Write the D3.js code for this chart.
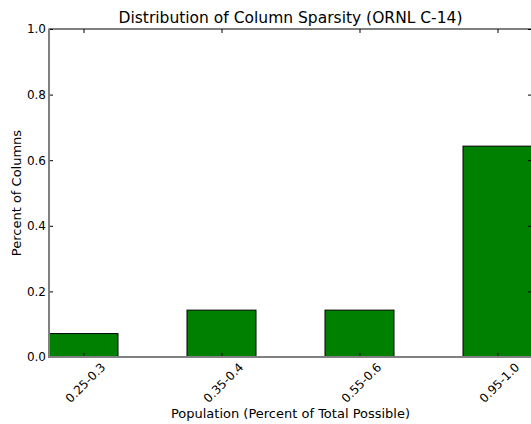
<!DOCTYPE html>
<html>
<head>
<meta charset="utf-8">
<script src="https://cdn.jsdelivr.net/npm/d3@7"></script>
<style>
  html, body { margin: 0; padding: 0; background: #fff; }
  svg { display: block; font-family: "DejaVu Sans", sans-serif; }
</style>
</head>
<body>
<div id="chart"></div>
<script>
const categories = ['0.25-0.3', '0.35-0.4', '0.55-0.6', '0.95-1.0'];
const shares = [0.0714, 0.1429, 0.1429, 0.6429];
const yTicks = [0, 0.2, 0.4, 0.6, 0.8, 1.0];

const W = 531, H = 424;
const m = { left: 49, right: 532, top: 29, bottom: 357 };
const barW = 0.5;

const svg = d3.select('#chart').append('svg').attr('width', W).attr('height', H);

const x = d3.scaleLinear().domain([0, 3.5]).range([m.left, m.right]);
const y = d3.scaleLinear().domain([0, 1]).range([m.bottom, m.top]);
const centers = categories.map((c, i) => i + barW / 2);

// bars
svg.append('g').selectAll('rect').data(shares).enter().append('rect')
  .attr('x', (d, i) => x(i))
  .attr('y', d => y(d))
  .attr('width', (d, i) => x(i + barW) - x(i))
  .attr('height', d => y(0) - y(d))
  .attr('fill', '#008000')
  .attr('stroke', '#000')
  .attr('stroke-width', 1);

function styleAxis(g) {
  g.select('.domain').remove();
  g.selectAll('.tick line').attr('stroke', '#000').attr('stroke-width', 1);
  g.selectAll('.tick text').attr('fill', '#000').style('font-size', '12px');
}

// left axis, inward ticks
svg.append('g').attr('transform', `translate(${m.left},0)`)
  .call(d3.axisLeft(y).tickValues(yTicks).tickFormat(d3.format('.1f')).tickSize(-4).tickPadding(3))
  .call(styleAxis)
  .attr('font-family', null);

// right axis ticks only
svg.append('g').attr('transform', `translate(${m.right},0)`)
  .call(d3.axisRight(y).tickValues(yTicks).tickFormat('').tickSize(-4))
  .call(styleAxis);

// top ticks
svg.append('g').attr('transform', `translate(0,${m.top})`)
  .call(d3.axisTop(x).tickValues(centers).tickFormat('').tickSize(-4))
  .call(styleAxis);

// bottom ticks
svg.append('g').attr('transform', `translate(0,${m.bottom})`)
  .call(d3.axisBottom(x).tickValues(centers).tickFormat('').tickSize(-4))
  .call(styleAxis);

// rotated category labels, bbox centred under tick
const lab = svg.append('g').style('font-size', '12px');
categories.forEach((c, i) => {
  const t = lab.append('text').text(c)
    .attr('text-anchor', 'middle')
    .attr('dominant-baseline', 'central');
  const w = t.node().getComputedTextLength();
  const h = 9;
  const half = (w + h) / Math.SQRT2 / 2;
  const cx = x(centers[i]) + 2, cy = m.bottom + 5 + half;
  t.attr('x', cx).attr('y', cy).attr('transform', `rotate(-45,${cx},${cy})`);
});

// spines
svg.append('line').attr('x1', m.left).attr('x2', m.right).attr('y1', m.top).attr('y2', m.top)
  .attr('stroke', '#000').attr('stroke-width', 1);
svg.append('line').attr('x1', m.right).attr('x2', m.right).attr('y1', m.top).attr('y2', m.bottom)
  .attr('stroke', '#000').attr('stroke-width', 1);
svg.append('line').attr('x1', m.left).attr('x2', m.left).attr('y1', m.top - 0.5).attr('y2', m.bottom + 1)
  .attr('stroke', '#808080').attr('stroke-width', 2);
svg.append('line').attr('x1', m.left).attr('x2', m.right).attr('y1', m.bottom).attr('y2', m.bottom)
  .attr('stroke', '#808080').attr('stroke-width', 2);

// titles
svg.append('text').attr('x', (m.left + m.right) / 2).attr('y', 23)
  .attr('text-anchor', 'middle').style('font-size', '15.5px')
  .text('Distribution of Column Sparsity (ORNL C-14)');
svg.append('text').attr('x', (m.left + m.right) / 2).attr('y', 418)
  .attr('text-anchor', 'middle').style('font-size', '13px')
  .text('Population (Percent of Total Possible)');
svg.append('text').attr('transform', `translate(20.5,${(m.top + m.bottom) / 2}) rotate(-90)`)
  .attr('text-anchor', 'middle').style('font-size', '13px')
  .text('Percent of Columns');
</script>
</body>
</html>
